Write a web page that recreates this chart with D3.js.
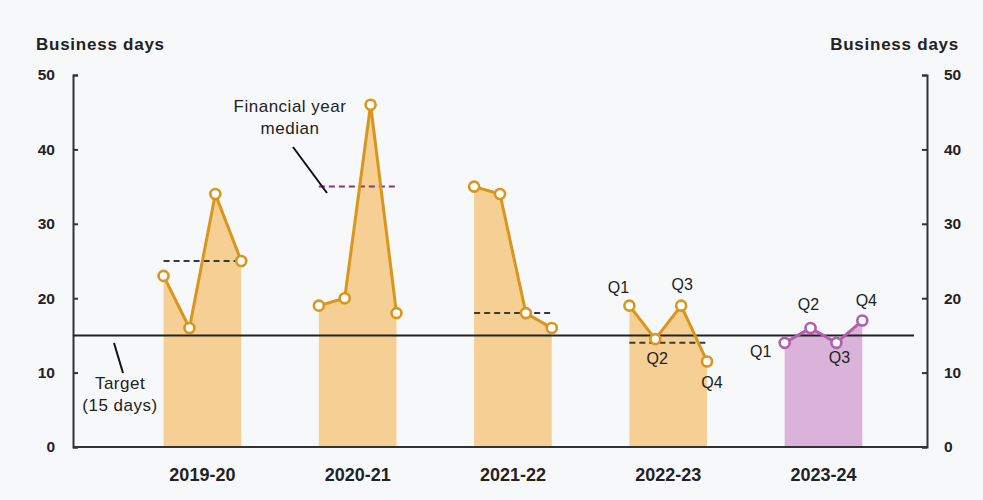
<!DOCTYPE html>
<html>
<head>
<meta charset="utf-8">
<script src="https://cdn.jsdelivr.net/npm/d3@7"></script>
<style>
  html, body { margin: 0; padding: 0; background: #f7f8fa; }
  svg { display: block; }
  text { font-family: "Liberation Sans", Arial, sans-serif; fill: #222; }
</style>
</head>
<body>
<svg id="chart" width="983" height="500"></svg>
<script>
// Financial years and quarterly processing times (business days)
const years = ["2019-20", "2020-21", "2021-22", "2022-23", "2023-24"];
const quarters = ["Q1", "Q2", "Q3", "Q4"];
const fy2019 = [23, 16, 34, 25];
const fy2020 = [19, 20, 46, 18];
const fy2021 = [35, 34, 18, 16];
const fy2022 = [19, 14.5, 19, 11.5];
const fy2023 = [14, 16, 14, 17];
const seriesValues = [fy2019, fy2020, fy2021, fy2022, fy2023];
// Financial year medians (none shown for the current year)
const medians = [25, 35, 18, 14, null];
const target = 15;
const yTicks = [0, 10, 20, 30, 40, 50];
// Years whose quarters are labelled
const labelledYears = ["2022-23", "2023-24"];

const svg = d3.select("#chart");
const W = 983, H = 500;
svg.append("rect").attr("width", W).attr("height", H).attr("fill", "#f7f8fa");

const plot = { left: 73, right: 927, top: 75, bottom: 447 };
// quarter index: each year takes 4 slots followed by a 2-slot gap
const slot = (yi, qi) => yi * 6 + qi;
const x = d3.scaleLinear().domain([-3.5, 29.5]).range([plot.left, plot.right]);
const y = d3.scaleLinear().domain([0, 50]).range([plot.bottom, plot.top]);

const orange = { line: "#d9961b", fill: "#f6cf94", median: "#3b3a30" };
const purple = { line: "#b35db3", fill: "#dab3da", median: "#7a3f78" };
const palette = (yi) => (yi === 4 ? purple : orange);

const data = years.map((yr, yi) => ({
  year: yr,
  yi,
  points: seriesValues[yi].map((v, qi) => ({ q: quarters[qi], qi, v, idx: slot(yi, qi) })),
  median: medians[yi]
}));

// shaded areas under each year's line
const area = d3.area().x(d => x(d.idx)).y0(y(0)).y1(d => y(d.v));
svg.append("g").selectAll("path").data(data).join("path")
  .attr("d", d => area(d.points))
  .attr("fill", d => palette(d.yi).fill);

// axes
const axisColor = "#333";
const gLeft = svg.append("g").attr("transform", `translate(${plot.left},0)`)
  .call(d3.axisLeft(y).tickValues(yTicks).tickSize(-5).tickPadding(18));
const gRight = svg.append("g").attr("transform", `translate(${plot.right},0)`)
  .call(d3.axisRight(y).tickValues(yTicks).tickSize(-5).tickPadding(17));
[gLeft, gRight].forEach(g => {
  g.select(".domain").attr("stroke", axisColor).attr("stroke-width", 2);
  g.selectAll(".tick line").attr("stroke", axisColor).attr("stroke-width", 2);
  g.selectAll(".tick text")
    .attr("font-family", "'Liberation Sans', Arial, sans-serif")
    .attr("font-size", 15.5).attr("font-weight", "bold").attr("fill", "#222");
});
svg.append("line")
  .attr("x1", plot.left).attr("x2", plot.right).attr("y1", y(0)).attr("y2", y(0))
  .attr("stroke", axisColor).attr("stroke-width", 2);

// year labels
svg.append("g").selectAll("text").data(data).join("text")
  .attr("x", d => x(slot(d.yi, 1.5)))
  .attr("y", 481)
  .attr("text-anchor", "middle")
  .attr("font-size", 18).attr("font-weight", "bold")
  .text(d => d.year);

// axis titles
svg.append("text").attr("x", 36).attr("y", 50)
  .attr("font-size", 17).attr("font-weight", "bold").attr("letter-spacing", 0.75)
  .text("Business days");
svg.append("text").attr("x", 959).attr("y", 50).attr("text-anchor", "end")
  .attr("font-size", 17).attr("font-weight", "bold").attr("letter-spacing", 0.75)
  .text("Business days");

// target line
svg.append("line")
  .attr("x1", plot.left).attr("x2", 914).attr("y1", y(target)).attr("y2", y(target))
  .attr("stroke", "#222").attr("stroke-width", 2);

// median dashes
svg.append("g").selectAll("line").data(data.filter(d => d.median != null)).join("line")
  .attr("x1", d => x(slot(d.yi, 0)))
  .attr("x2", d => x(slot(d.yi, 3)))
  .attr("y1", d => y(d.median)).attr("y2", d => y(d.median))
  .attr("stroke", d => d.yi === 1 ? purple.median : orange.median)
  .attr("stroke-width", 2)
  .attr("stroke-dasharray", "6,4");

// quarterly lines and markers
const line = d3.line().x(d => x(d.idx)).y(d => y(d.v));
const gYears = svg.append("g").selectAll("g").data(data).join("g");
gYears.append("path")
  .attr("d", d => line(d.points))
  .attr("fill", "none")
  .attr("stroke", d => palette(d.yi).line)
  .attr("stroke-width", 3)
  .attr("stroke-linejoin", "round");
gYears.selectAll("circle").data(d => d.points.map(p => ({ ...p, yi: d.yi }))).join("circle")
  .attr("cx", d => x(d.idx)).attr("cy", d => y(d.v))
  .attr("r", 5)
  .attr("fill", "#fff")
  .attr("stroke", d => palette(d.yi).line)
  .attr("stroke-width", 2.6);

// quarter labels, offset from their markers
const labelOffsets = {
  "2022-23": [[-11, -18], [2, 19], [1, -21], [5, 21]],
  "2023-24": [[-24, 9], [-2, -23], [3, 15], [4, -20]]
};
labelledYears.forEach(yr => {
  const d = data.find(e => e.year === yr);
  svg.append("g").selectAll("text").data(d.points).join("text")
    .attr("x", p => x(p.idx) + labelOffsets[yr][p.qi][0])
    .attr("y", p => y(p.v) + labelOffsets[yr][p.qi][1])
    .attr("text-anchor", "middle")
    .attr("dominant-baseline", "central")
    .attr("font-size", 16).attr("fill", "#333")
    .text(p => p.q);
});

// annotations
const note = svg.append("g");
const noteText = (xPos, yPos, str) => note.append("text")
  .attr("x", xPos).attr("y", yPos).attr("text-anchor", "middle")
  .attr("font-size", 17).attr("letter-spacing", 0.5).attr("fill", "#333").text(str);
noteText(290, 112, "Financial year");
noteText(290, 134, "median");
note.append("line").attr("x1", 293).attr("y1", 147).attr("x2", 327).attr("y2", 193)
  .attr("stroke", "#111").attr("stroke-width", 2);

noteText(120, 389, "Target");
noteText(120, 411, "(15 days)");
note.append("line").attr("x1", 114).attr("y1", 343).attr("x2", 123).attr("y2", 373)
  .attr("stroke", "#111").attr("stroke-width", 2);
</script>
</body>
</html>
